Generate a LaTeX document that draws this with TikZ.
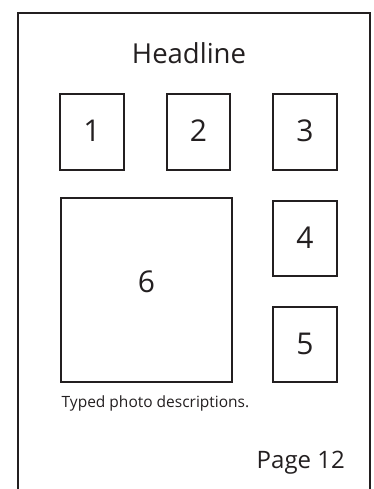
\documentclass[tikz,border=0pt]{standalone}
\usepackage{fontspec}
\setmainfont{Open Sans}
\definecolor{ink}{RGB}{35,31,32}
\begin{document}
\begin{tikzpicture}[x=1pt,y=-1pt,
  photo/.style={draw=ink,line width=2.2pt,inner sep=0pt,font=\fontsize{30}{32}\selectfont,text=ink},
  digit/.style={inner sep=0pt,font=\fontsize{30}{32}\selectfont,text=ink},
  lbl/.style={inner sep=0pt,text=ink}]
\useasboundingbox (0,0) rectangle (373,489);
\coordinate (fbl) at (18,489);
\coordinate (ftl) at (18,13);
\coordinate (ftr) at (370,13);
\coordinate (fbr) at (370,489);
\draw[line width=2.6pt,ink] (fbl) -- (ftl) -- (ftr) -- (fbr);
\node[lbl,anchor=base,font=\fontsize{27.5}{30}\selectfont] (head) at (189,63.3) {Headline};
\node[photo,minimum width=64,minimum height=76] (p1) at (92,132) {};
\node[digit] (n1) at (92,130.5) {1};
\node[photo,minimum width=63,minimum height=76] (p2) at (198.5,132) {};
\node[digit] (n2) at (198.5,130.5) {2};
\node[photo,minimum width=64,minimum height=76] (p3) at (305,132) {};
\node[digit] (n3) at (305,130.5) {3};
\node[photo,minimum width=171,minimum height=184] (p6) at (146.5,290) {};
\node[digit] (n6) at (146.5,282) {6};
\node[photo,minimum width=64,minimum height=75] (p4) at (305,238.5) {};
\node[digit] (n4) at (305,238) {4};
\node[photo,minimum width=64,minimum height=75] (p5) at (305,344.5) {};
\node[digit] (n5) at (305,343.5) {5};
\node[lbl,anchor=base west,font=\fontsize{15.5}{18}\selectfont] (cap) at (61.5,407) {Typed photo descriptions.};
\node[lbl,anchor=base east,font=\fontsize{24}{27}\selectfont] (page) at (345,468.3) {Page 12};
\end{tikzpicture}
\end{document}
